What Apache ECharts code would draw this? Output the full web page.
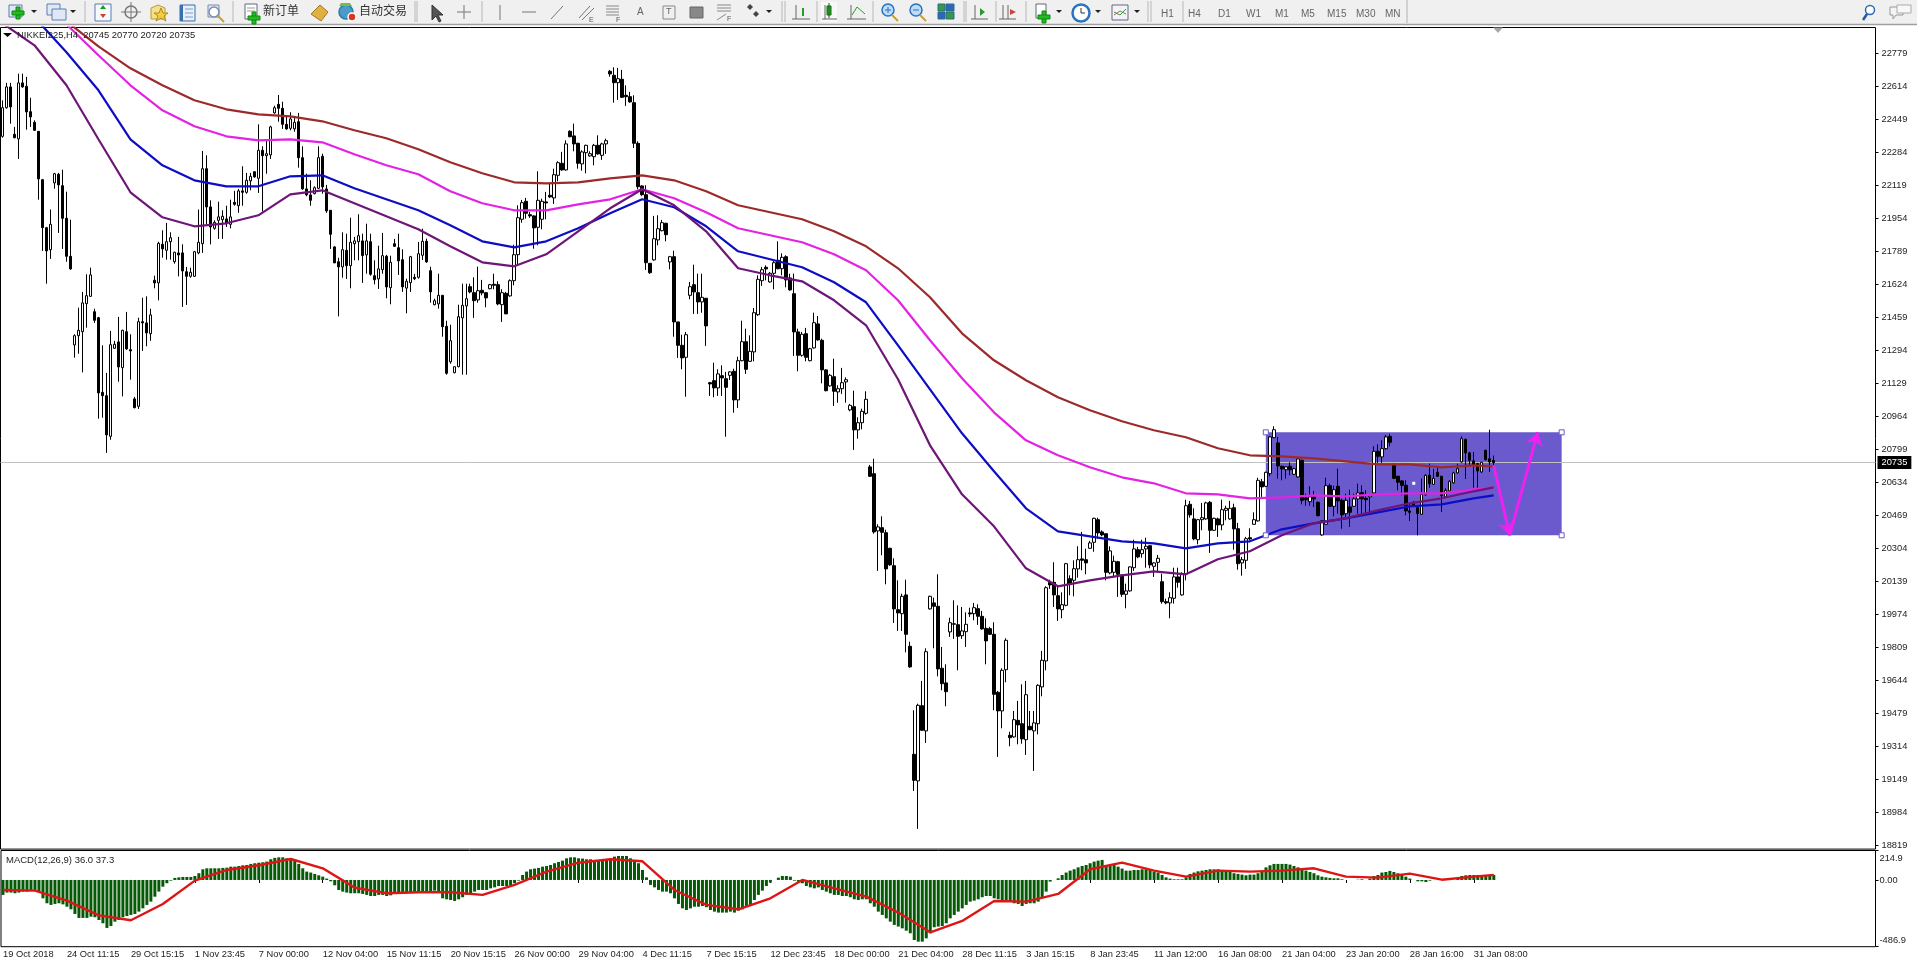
<!DOCTYPE html>
<html><head><meta charset="utf-8">
<style>html,body{margin:0;padding:0;background:#fff}#c{width:1917px;height:966px}</style>
<script src="https://cdn.jsdelivr.net/npm/echarts@6/dist/echarts.min.js"></script>
</head><body><div id="c"></div>
<script>
const timeLabels=["19 Oct 2018","24 Oct 11:15","29 Oct 15:15","1 Nov 23:45","7 Nov 00:00","12 Nov 04:00","15 Nov 11:15","20 Nov 15:15","26 Nov 00:00","29 Nov 04:00","4 Dec 11:15","7 Dec 15:15","12 Dec 23:45","18 Dec 00:00","21 Dec 04:00","28 Dec 11:15","3 Jan 15:15","8 Jan 23:45","11 Jan 12:00","16 Jan 08:00","21 Jan 04:00","23 Jan 20:00","28 Jan 16:00","31 Jan 08:00"];
const priceTicks=[22779,22614,22449,22284,22119,21954,21789,21624,21459,21294,21129,20964,20799,20634,20469,20304,20139,19974,19809,19644,19479,19314,19149,18984,18819];
// [open, close, low, high]
const ohlc=[
[22366,22509,22359,22546],[22509,22613,22504,22633],[22613,22513,22429,22633],[22376,22359,22356,22413],[22353,22633,22253,22679],[22633,22613,22609,22679],[22616,22488,22399,22663],[22489,22463,22413,22559],[22436,22396,22393,22446],[22391,22153,22049,22391],
[22149,21909,21793,22153],[21909,21793,21629,21913],[21799,21926,21753,22000],[22133,22179,22104,22183],[22176,22123,21883,22183],[22119,21956,21803,22199],[21956,21766,21739,22089],[21766,21703,21699,21949],[21323,21369,21259,21376],[21369,21396,21279,21509],
[21389,21533,21186,21588],[21529,21569,21409,21676],[21566,21673,21563,21709],[21489,21446,21433,21504],[21459,21083,20954,21463],[21086,21069,20959,21321],[21069,20873,20783,21183],[20866,21324,20849,21393],[21306,21326,21303,21343],[21338,21213,21139,21463],
[21209,21396,21066,21399],[21389,21303,21299,21488],[21299,21293,21149,21376],[21053,21009,21006,21063],[21016,21439,21003,21459],[21439,21433,21293,21559],[21433,21383,21316,21566],[21379,21473,21343,21504],[21646,21633,21606,21669],[21633,21831,21546,21839],
[21826,21803,21759,21896],[21796,21839,21749,21933],[21839,21859,21749,21886],[21739,21786,21729,21789],[21783,21773,21666,21863],[21783,21693,21513,21826],[21689,21666,21523,21713],[21666,21686,21659,21709],[21666,21789,21663,21793],[21783,21836,21776,22000],
[21829,22204,21783,22293],[22204,22013,21926,22271],[22013,21913,21826,22046],[21906,21936,21899,21946],[21946,21963,21853,22039],[21949,21966,21853,21996],[21953,21929,21913,22019],[21926,21963,21906,22049],[22036,22026,22019,22093],[22019,22093,21983,22103],
[22093,22086,22019,22216],[22086,22146,22079,22183],[22143,22166,22096,22183],[22189,22163,22159,22189],[22156,22296,22083,22426],[22296,22269,21989,22316],[22269,22279,22179,22346],[22273,22413,22253,22419],[22483,22509,22479,22519],[22526,22506,22439,22573],
[22506,22426,22403,22539],[22426,22403,22399,22469],[22406,22453,22396,22486],[22403,22436,22389,22463],[22439,22259,22209,22483],[22259,22103,22099,22316],[22103,22073,22066,22179],[22073,22046,22019,22146],[22079,22109,22076,22116],[22106,22259,22103,22316],
[22266,22113,22079,22279],[22103,21993,21983,22123],[21996,21876,21803,21996],[21813,21733,21733,21816],[21739,21713,21466,21759],[21713,21799,21659,21886],[21796,21719,21653,21879],[21719,21836,21606,21959],[21829,21843,21746,21863],[21839,21869,21746,21976],
[21843,21769,21633,21879],[21773,21843,21679,21929],[21839,21676,21669,21879],[21669,21649,21626,21746],[21653,21703,21603,21819],[21699,21769,21679,21883],[21766,21613,21556,21773],[21609,21736,21526,21769],[21829,21816,21813,21853],[21809,21743,21673,21879],
[21749,21613,21588,21801],[21607,21641,21481,21654],[21634,21764,21588,21768],[21661,21654,21647,21678],[21661,21779,21654,21838],[21771,21841,21748,21904],[21841,21738,21734,21854],[21694,21588,21534,21714],[21524,21544,21521,21554],[21528,21571,21504,21679],
[21571,21414,21364,21571],[21416,21181,21174,21444],[21238,21344,21229,21424],[21184,21214,21181,21214],[21214,21464,21211,21524],[21458,21521,21174,21629],[21518,21554,21174,21629],[21614,21588,21581,21629],[21584,21544,21458,21661],[21548,21594,21534,21714],
[21596,21583,21571,21648],[21584,21558,21511,21588],[21604,21624,21601,21628],[21626,21621,21601,21679],[21624,21528,21521,21641],[21524,21584,21438,21601],[21581,21478,21478,21588],[21568,21644,21564,21651],[21644,21774,21621,21824],[21774,21959,21728,22021],
[21951,22034,21934,22048],[22041,21981,21954,22058],[21974,21968,21958,21988],[21968,21908,21804,21971],[21911,22046,21821,22191],[21951,22041,21901,22054],[22038,22033,21951,22088],[22071,22063,22058,22128],[22058,22174,22028,22204],[22171,22234,22141,22241],
[22231,22198,22194,22288],[22198,22328,22194,22346],[22391,22364,22361,22396],[22368,22328,22291,22429],[22331,22231,22204,22334],[22228,22288,22194,22296],[22284,22321,22181,22324],[22268,22279,22264,22291],[22264,22321,22221,22328],[22321,22278,22274,22371],
[22271,22328,22248,22334],[22328,22344,22278,22354],[22691,22678,22664,22698],[22671,22634,22534,22711],[22634,22654,22548,22708],[22651,22561,22558,22698],[22571,22564,22518,22621],[22564,22538,22534,22588],[22534,22331,22308,22571],[22331,22114,22101,22341],
[22118,22074,22068,22121],[22074,21734,21698,22121],[21731,21684,21678,21731],[21748,21854,21744,21968],[21848,21904,21821,21971],[21894,21934,21891,21948],[21931,21874,21841,21934],[21738,21764,21701,21768],[21764,21438,21364,21794],[21438,21321,21258,21438],
[21321,21258,21201,21374],[21261,21374,21064,21388],[21571,21614,21551,21638],[21624,21588,21478,21724],[21584,21538,21478,21679],[21538,21561,21484,21679],[21556,21418,21318,21558],[21134,21128,21068,21138],[21144,21108,21061,21234],[21108,21178,21068,21201],
[21169,21158,21068,21221],[21154,21111,20864,21188],[21171,21188,21148,21191],[21191,21048,20984,21204],[21048,21244,21008,21264],[21244,21339,21241,21444],[21339,21201,21178,21404],[21241,21291,21238,21371],[21288,21484,21241,21508],[21474,21651,21468,21671],
[21644,21699,21618,21713],[21711,21703,21646,21721],[21638,21681,21634,21688],[21681,21734,21601,21746],[21746,21704,21701,21841],[21704,21761,21671,21781],[21764,21648,21611,21771],[21658,21598,21594,21679],[21579,21388,21268,21679],[21388,21271,21191,21404],
[21271,21376,21264,21388],[21379,21261,21241,21408],[21244,21304,21241,21308],[21308,21434,21304,21484],[21428,21348,21344,21468],[21346,21198,21131,21354],[21198,21094,21091,21201],[21118,21171,21114,21178],[21164,21091,21018,21254],[21088,21104,21034,21121],
[21104,21134,21078,21208],[21138,21149,21034,21161],[20998,21021,20991,21028],[21014,20898,20798,21094],[20898,20934,20854,20961],[20934,20991,20901,21004],[20981,21051,20974,21091],[20713,20666,20663,20723],[20679,20388,20379,20754],[20393,20413,20193,20426],
[20409,20386,20271,20466],[20384,20203,20126,20399],[20306,20223,20219,20309],[20219,20003,19933,20256],[19999,19983,19893,20146],[19979,20066,19893,20079],[20073,19876,19786,20149],[19816,19713,19709,19839],[19276,19146,19093,19496],[19143,19521,18903,19529],
[19519,19396,19393,19643],[19393,19789,19333,19806],[20003,20066,19999,20069],[20033,20016,19806,20059],[20016,19703,19666,20176],[19706,19629,19596,19813],[19633,19589,19516,19726],[19888,19934,19863,19959],[19926,19929,19853,20046],[19924,19866,19696,20021],
[19869,19893,19853,20013],[19889,19926,19813,19986],[19983,19978,19963,20009],[19979,20009,19946,20033],[20004,19966,19923,20026],[19966,19903,19899,19993],[19906,19843,19726,19956],[19904,19876,19873,19913],[19876,19576,19496,19936],[19586,19493,19263,19593],
[19493,19696,19406,19706],[19699,19846,19636,19856],[19371,19359,19316,19389],[19363,19449,19359,19493],[19446,19423,19326,19543],[19429,19353,19329,19626],[19349,19574,19273,19643],[19416,19399,19396,19493],[19393,19433,19193,19493],[19429,19621,19376,19626],
[19613,19746,19566,19793],[19743,20109,19696,20116],[20136,20123,20103,20149],[20136,20073,20013,20236],[20069,20003,19943,20113],[19999,20024,19956,20086],[20021,20229,20016,20233],[20154,20126,20071,20171],[20146,20204,20066,20246],[20203,20249,20159,20316],
[20253,20246,20196,20388],[20249,20233,20176,20304],[20306,20333,20303,20343],[20336,20456,20289,20459],[20449,20383,20353,20459],[20388,20373,20366,20396],[20379,20186,20146,20379],[20183,20293,20176,20316],[20186,20241,20163,20269],[20239,20176,20063,20243],
[20173,20076,20063,20173],[20076,20093,20006,20129],[20093,20213,20089,20216],[20209,20303,20193,20349],[20299,20263,20256,20313],[20279,20299,20259,20349],[20303,20316,20209,20359],[20319,20223,20206,20321],[20216,20233,20163,20236],[20236,20256,20186,20273],
[20139,20039,20029,20179],[20039,20033,20026,20054],[20033,20059,19956,20086],[20056,20163,20029,20209],[20163,20136,20109,20209],[20073,20179,20069,20186],[20179,20519,20146,20549],[20526,20473,20459,20543],[20453,20353,20346,20506],[20349,20449,20326,20453],
[20449,20459,20396,20533],[20453,20533,20449,20539],[20536,20396,20283,20543],[20396,20456,20393,20459],[20453,20423,20363,20459],[20423,20499,20396,20549],[20496,20506,20446,20519],[20453,20506,20449,20543],[20509,20403,20299,20529],[20404,20229,20199,20433],
[20233,20249,20169,20263],[20246,20354,20203,20363],[20359,20353,20346,20406],[20426,20449,20423,20486],[20443,20646,20439,20659],[20639,20613,20563,20653],[20616,20686,20613,20689],[20679,20863,20666,20866],[20859,20899,20856,20916],[20833,20718,20654,20863],
[20716,20703,20646,20719],[20699,20713,20654,20716],[20716,20699,20671,20736],[20676,20704,20673,20709],[20663,20753,20659,20759],[20746,20546,20526,20749],[20558,20549,20519,20579],[20539,20563,20519,20616],[20563,20553,20513,20593],[20536,20469,20466,20539],
[20373,20443,20369,20446],[20426,20619,20423,20659],[20619,20516,20513,20629],[20516,20599,20466,20619],[20616,20543,20479,20704],[20546,20473,20404,20554],[20479,20546,20463,20579],[20513,20486,20413,20599],[20516,20553,20513,20579],[20553,20583,20479,20629],
[20584,20553,20479,20621],[20556,20549,20479,20596],[20563,20573,20479,20576],[20583,20791,20579,20816],[20791,20766,20733,20826],[20763,20804,20733,20846],[20804,20863,20799,20873],[20866,20836,20816,20879],[20726,20656,20653,20729],[20666,20636,20596,20669],
[20643,20621,20571,20646],[20621,20493,20471,20646],[20493,20486,20443,20529],[20533,20516,20513,20543],[20509,20479,20371,20519],[20476,20576,20473,20654],[20573,20671,20569,20676],[20671,20629,20609,20729],[20626,20656,20623,20703],[20686,20666,20663,20709],
[20666,20569,20488,20669],[20563,20596,20559,20606],[20593,20641,20589,20646],[20633,20683,20629,20689],[20683,20704,20679,20729],[20738,20854,20734,20866],[20851,20783,20653,20854],[20783,20746,20721,20788],[20743,20721,20609,20788],[20729,20693,20609,20733],
[20688,20736,20683,20738],[20796,20749,20746,20799],[20754,20738,20688,20899],[20745,20735,20720,20770]
];
// bar positions at which the moving-average and signal curves were read
const sampleBars=[0,8,16,24,32,40,48,56,64,72,80,88,96,104,112,120,128,136,144,152,160,168,176,184,192,200,208,216,224,232,240,248,256,264,272,280,288,296,304,312,320,328,336,344,352,360,368,373];
const maBrown=[23396,23196,22941,22816,22706,22621,22546,22501,22476,22466,22441,22396,22356,22301,22236,22181,22136,22131,22136,22156,22171,22146,22091,22021,21986,21951,21891,21816,21706,21561,21381,21246,21146,21061,20996,20941,20896,20861,20806,20771,20766,20756,20741,20726,20726,20711,20721,20716];
const maMagenta=[23276,23071,22926,22771,22621,22496,22416,22366,22346,22351,22336,22276,22221,22176,22091,22031,21996,21996,22026,22051,22101,22056,21986,21906,21871,21836,21776,21696,21546,21346,21156,20986,20846,20771,20711,20661,20631,20581,20576,20556,20561,20571,20566,20576,20581,20581,20601,20611];
const maBlue=[23121,22961,22786,22596,22351,22221,22146,22116,22116,22166,22171,22106,22051,21996,21921,21841,21811,21841,21906,21981,22051,22011,21916,21791,21751,21711,21636,21536,21321,21101,20881,20691,20506,20391,20366,20341,20331,20306,20331,20341,20401,20431,20456,20486,20516,20526,20556,20571];
const maPurple=[22931,22821,22621,22351,22086,21961,21916,21931,21971,22076,22096,22031,21966,21901,21816,21736,21716,21776,21891,22006,22101,22021,21891,21706,21671,21641,21546,21421,21151,20821,20576,20416,20206,20116,20146,20171,20191,20176,20251,20291,20371,20431,20456,20496,20531,20556,20591,20611];
const macdBars=[-109,-92,-92,-97,-92,-85,-85,-78,-73,-85,-134,-170,-182,-175,-170,-178,-195,-214,-248,-277,-277,-277,-268,-272,-292,-316,-350,-336,-304,-292,-272,-263,-255,-248,-231,-207,-182,-158,-122,-85,-49,-24,-5,15,19,22,22,22,29,49,78,85,85,85,85,88,90,97,97,102,107,109,117,122,126,129,134,151,161,165,165,158,151,141,117,85,61,54,44,34,24,10,-10,-39,-73,-85,-92,-97,-97,-97,-102,-109,-117,-117,-109,-109,-117,-112,-102,-97,-92,-92,-92,-92,-88,-88,-85,-85,-78,-85,-134,-141,-146,-153,-141,-126,-109,-97,-85,-73,-73,-73,-61,-54,-44,-44,-44,-39,-24,-5,36,61,78,83,88,97,102,109,122,131,141,158,165,165,158,156,151,151,146,141,146,151,158,170,175,175,175,158,134,122,73,19,-36,-54,-73,-85,-85,-97,-134,-175,-207,-219,-207,-195,-195,-190,-199,-219,-231,-238,-238,-238,-231,-238,-224,-214,-195,-182,-146,-109,-78,-44,-19,0,17,29,29,24,-5,-12,-24,-44,-54,-61,-54,-73,-85,-97,-109,-109,-117,-117,-126,-141,-146,-141,-141,-170,-195,-231,-255,-280,-304,-328,-340,-353,-370,-389,-438,-450,-450,-426,-389,-345,-340,-336,-316,-280,-255,-231,-207,-182,-158,-151,-141,-126,-117,-117,-134,-141,-151,-151,-158,-170,-175,-190,-175,-170,-170,-158,-134,-85,-12,0,12,36,54,68,78,92,102,109,122,134,141,146,109,102,117,97,83,68,68,73,73,78,78,78,61,54,36,19,10,5,5,5,19,44,54,63,68,73,78,78,78,73,73,68,49,44,39,34,39,39,49,68,92,107,117,117,117,117,112,102,92,85,68,58,49,34,24,19,15,12,12,5,0,0,0,2,5,0,10,29,36,54,58,66,58,49,44,24,10,0,-10,-10,-15,-5,0,0,0,0,0,0,12,29,34,36,36,36,36,36,36,36];
const macdSignal=[-73,-78,-151,-258,-294,-175,-5,73,107,153,85,-56,-97,-90,-90,-109,-36,61,126,151,136,-73,-182,-214,-134,0,-61,-122,-238,-382,-299,-153,-158,-102,78,126,68,24,68,61,68,85,24,17,46,2,24,37.3];
const currentPrice=20735;
const boxHigh=20886,boxLow=20371;
// the panel's two scale limits, shown just inside the panel edges
const macdScaleText={160:'214.9',0:'0.00','-438':'-486.9'};

const slotCount=469, labelStep=16;
const slots=Array.from({length:slotCount},(_,i)=>i%labelStep===0?(timeLabels[i/labelStep]||''):'');
const tickFn=i=>i%labelStep===0&&i<timeLabels.length*labelStep;
const pair=arr=>sampleBars.map((b,k)=>[b,arr[k]]);
const font='"Liberation Sans",Arial,sans-serif';
const maLine=(name,arr,color)=>({name,type:'line',xAxisIndex:0,yAxisIndex:0,data:pair(arr),showSymbol:false,symbol:'none',smooth:false,lineStyle:{color,width:2.2},z:4,silent:true,clip:true});

// toolbar drawing
const g=[];
const R=(x,y,w,h,fill,stroke)=>g.push({type:'rect',shape:{x,y,width:w,height:h},style:{fill:fill||'none',stroke:stroke||null,lineWidth:1},silent:true,z:20});
const L=(x1,y1,x2,y2,stroke,w)=>g.push({type:'line',shape:{x1,y1,x2,y2},style:{stroke:stroke||'#555',lineWidth:w||1},silent:true,z:20});
const C=(cx,cy,r,fill,stroke)=>g.push({type:'circle',shape:{cx,cy,r},style:{fill:fill||'none',stroke:stroke||null,lineWidth:1.5},silent:true,z:20});
const P=(points,fill,stroke)=>g.push({type:'polygon',shape:{points},style:{fill:fill||'none',stroke:stroke||null,lineWidth:1},silent:true,z:20});
const T=(text,x,y,size,color,family)=>g.push({type:'text',x,y,style:{text,fill:color||'#555',font:(size||10)+'px '+(family||font),textVerticalAlign:'middle'},silent:true,z:20});
const plus=(x,y)=>{R(x-2,y-6,4,12,'#22bb22','#118811');R(x-6,y-2,12,4,'#22bb22','#118811');};
const drop=x=>P([[x-3,10],[x+3,10],[x,13]],'#222');
const sep=x=>L(x,1,x,22,'#b8b8b8',1);
R(0,0,1917,24,'#f0f0f0');L(0,24.5,1917,24.5,'#a0a0a0',1.5);
R(9,5,13,12,'#dfe8f4','#5a7fb0');plus(18,13);drop(34);
R(47,4,13,11,'#dfe8f4','#5a7fb0');R(52,9,14,11,'#dfe8f4','#5a7fb0');drop(73);sep(85);
R(95,4,16,17,'#f4f8ff','#5a7fb0');P([[100,9],[103,5],[106,9]],'#1a9a1a');P([[100,14],[106,14],[103,18]],'#cc4422');
C(131,12,6,null,'#777');L(121,12,141,12,'#777');L(131,2,131,22,'#777');
P([[151,8],[158,5],[165,8],[165,19],[151,19]],'#f4e08a','#b79a3a');P([[161,8],[163,13],[168,13],[164,16],[166,21],[161,18],[156,21],[158,16],[154,13],[159,13]],'#f2cf3c','#b08a20');
R(180,5,15,16,'#e8f0fb','#3a6fb0');R(180,5,3,16,'#3a6fb0');L(185,9,193,9,'#7a9fc8');L(185,13,193,13,'#7a9fc8');L(185,17,193,17,'#7a9fc8');
R(208,5,11,12,'#dfe8f4','#7a8fb0');C(214,12,5,'#ffffff','#7a8fb0');L(218,16,224,22,'#c9a030',2);sep(233);
R(245,4,12,15,'#fff','#667');L(247,8,255,8,'#999');L(247,11,255,11,'#999');plus(254,18);
T('新订单',263,10,12,'#333','"Noto Sans CJK SC"');
P([[311,14],[320,5],[328,12],[321,21]],'#e0b040','#a07820');
C(346,12,7,'#4a9bc8','#2a7aa0');P([[339,6],[352,6],[350,3],[341,3]],'#7ab94a');C(352,17,4,'#dd3322','#fff');
T('自动交易',359,10,12,'#333','"Noto Sans CJK SC"');sep(415);L(417,1,417,22,'#b8b8b8',1);
P([[432,5],[432,20],[436,16],[439,22],[441,21],[438,15],[443,15]],'#555','#333');
L(457,12,471,12,'#777');L(464,5,464,19,'#777');sep(482);L(500,5,500,20,'#777');L(522,12,536,12,'#777');L(551,19,563,6,'#777');
L(579,18,590,6,'#777');L(582,20,594,8,'#777');T('E',589,20,7,'#555');
[6,9,12,15].forEach(y=>L(606,y,619,y,'#888'));T('F',616,20,7,'#555');
T('A',637,12,10,'#666');R(663,6,12,13,null,'#888');T('T',666,12,9,'#666');R(690,7,13,11,'#888','#666');
[5,8,11].forEach(y=>L(717,y,731,y,'#888'));L(717,20,726,14,'#888');T('F',727,19,7,'#555');
P([[747,7],[750,4],[753,7],[750,10]],'#444');P([[753,14],[756,11],[759,14],[756,17]],'#444');drop(769);sep(782);L(785,1,785,22,'#b8b8b8',1);
L(796,5,796,19,'#666');L(792,19,810,19,'#666');L(803,8,803,16,'#2a9a2a',2);sep(817);
R(821,2,16,20,'#f8f8f8');R(827,6,4,9,'#2aaa2a','#116611');L(829,3,829,18,'#116611');L(822,19,837,19,'#666');L(825,5,825,19,'#666');
L(851,5,851,19,'#666');L(847,19,866,19,'#666');L(852,15,857,7,'#2a9a2a');L(857,7,865,14,'#2a9a2a');sep(873);
C(888,10,6,'#bcdcf8','#2a72c0');L(885,10,891,10,'#2a72c0');L(888,7,888,13,'#2a72c0');L(892,15,898,21,'#c9a030',2);
C(916,10,6,'#bcdcf8','#2a72c0');L(913,10,919,10,'#2a72c0');L(920,15,926,21,'#c9a030',2);
R(938,4,7,7,'#3a9a3a','#2a6a9a');R(946,4,8,7,'#2a6ab0','#2a6a9a');R(938,12,7,7,'#2a6ab0','#2a6a9a');R(946,12,8,7,'#3a9a3a','#2a6a9a');sep(964);L(966,1,966,22,'#b8b8b8',1);
L(975,5,975,19,'#666');L(971,19,988,19,'#666');P([[980,8],[985,12],[980,16]],'#2a9a2a');sep(996);
L(1003,5,1003,19,'#666');L(999,19,1016,19,'#666');L(1008,5,1008,19,'#666');P([[1016,12],[1010,9],[1010,15]],'#cc4444');sep(1026);
R(1036,4,10,14,'#fff','#667');plus(1044,17);drop(1059);
C(1081,13,8,'#ffffff','#2a72c0');C(1081,13,9,null,'#2a72c0');L(1081,13,1081,8,'#333');L(1081,13,1085,13,'#333');drop(1098);
R(1112,5,16,15,'#f0f4fa','#667');L(1114,15,1120,11,'#cc5555');L(1120,11,1126,14,'#cc5555');L(1114,12,1120,15,'#3a9a3a');L(1120,15,1126,9,'#3a9a3a');drop(1137);sep(1148);L(1151,1,1151,22,'#b8b8b8',1);
[['H1',1161],['H4',1188],['D1',1218],['W1',1246],['M1',1275],['M5',1301],['M15',1327],['M30',1356],['MN',1385]].forEach(a=>T(a[0],a[1],14,10,'#666'));
L(1183,1,1183,22,'#b8b8b8',1);L(1407,0,1407,23,'#b0b0b0',1);
C(1870,10,4.5,'#fff','#2a6ab0');L(1867,14,1863,20,'#2a5a9a',2.5);
P([[1890,7],[1903,7],[1903,15],[1896,15],[1893,19],[1893,15],[1890,15]],'#f4f4f4','#999');P([[1897,5],[1911,5],[1911,13],[1897,13]],'#f8f8f8','#aaa');
// chart overlays
P([[3,33],[12,33],[7.5,37]],'#000');
T('NIKKEI225,H4  20745 20770 20720 20735',17,35.5,9.4,'#222');
T('MACD(12,26,9) 36.0 37.3',6,860,9.5,'#222');
P([[1493,27.5],[1503,27.5],[1498,33]],'#a8a8a8');

const option={
 animation:false,backgroundColor:'#fff',
 graphic:g,
 grid:[
  {left:0.5,right:41.5,top:27.5,height:821.6,show:true,borderColor:'#000',borderWidth:1,backgroundColor:'#fff'},
  {left:0.5,right:41.5,top:850.5,height:96.2,show:true,borderColor:'#000',borderWidth:1,backgroundColor:'#fff'}
 ],
 xAxis:[
  {type:'category',gridIndex:0,data:slots,boundaryGap:true,show:false},
  {type:'category',gridIndex:1,data:slots,boundaryGap:true,axisLine:{show:false},
   axisTick:{show:true,alignWithLabel:true,interval:tickFn,length:3,lineStyle:{color:'#000'}},
   axisLabel:{interval:tickFn,align:'left',margin:3,color:'#222',fontSize:9.3,fontFamily:font,hideOverlap:false},splitLine:{show:false}}
 ],
 yAxis:[
  {type:'value',gridIndex:0,position:'right',min:18802,max:22910,scale:true,axisLine:{show:false},splitLine:{show:false},
   axisTick:{show:true,length:3,inside:false,customValues:priceTicks,lineStyle:{color:'#000'}},
   axisLabel:{customValues:priceTicks,color:'#222',fontSize:9.3,fontFamily:font,margin:6,formatter:v=>String(v)}},
  {type:'value',gridIndex:1,position:'right',min:-486.9,max:214.9,axisLine:{show:false},splitLine:{show:false},
   axisTick:{show:true,length:3,customValues:[214.9,0,-486.9],lineStyle:{color:'#000'}},
   axisLabel:{customValues:[160,0,-438],color:'#222',fontSize:9.3,fontFamily:font,margin:4,formatter:v=>macdScaleText[v]}}
 ],
 series:[
  {type:'candlestick',name:'NIKKEI225',xAxisIndex:0,yAxisIndex:0,data:ohlc,barWidth:3,z:3,silent:true,
   itemStyle:{color:'#ffffff',color0:'#000000',borderColor:'#000000',borderColor0:'#000000',borderWidth:1},
   markArea:{silent:true,z:1,itemStyle:{color:'#6a5acd',opacity:1},data:[[{coord:[316,boxHigh]},{coord:[390,boxLow]}]]},
   markLine:{silent:true,symbol:'none',z:2,lineStyle:{color:'#c0c0c0',width:1,type:'solid'},
     label:{position:'end',formatter:String(currentPrice),color:'#fff',backgroundColor:'#000',padding:[2,4,2,4],fontSize:9.3,fontFamily:font,distance:2},
     emphasis:{disabled:true},data:[{yAxis:currentPrice}]}
  },
  maLine('MA brown',maBrown,'#9c2a2a'),
  maLine('MA magenta',maMagenta,'#e322e3'),
  maLine('MA blue',maBlue,'#0d0dc4'),
  maLine('MA purple',maPurple,'#6e1678'),
  {type:'line',name:'drawing',xAxisIndex:0,yAxisIndex:0,data:[],z:6,silent:true,
   markLine:{silent:true,z:6,symbol:'none',lineStyle:{color:'#ee22ee',width:3,type:'solid'},label:{show:false},
     data:[[{coord:[373,20721]},{coord:[377.4,boxLow],symbol:'arrow',symbolSize:13}],[{coord:[377.4,boxLow]},{coord:[384,boxHigh],symbol:'arrow',symbolSize:13}]]},
   markPoint:{silent:true,z:7,symbol:'rect',symbolSize:5,label:{show:false},itemStyle:{color:'#fff',borderColor:'#6a5acd',borderWidth:1},
     data:[{coord:[316,boxHigh]},{coord:[390,boxHigh]},{coord:[316,boxLow]},{coord:[390,boxLow]},{coord:[353,20631],symbolSize:3,itemStyle:{color:'#fff',borderWidth:0}}]}
  },
  {type:'bar',name:'MACD',xAxisIndex:1,yAxisIndex:1,data:macdBars,barWidth:3,itemStyle:{color:'#055a05'},silent:true,z:2},
  {type:'line',name:'Signal',xAxisIndex:1,yAxisIndex:1,data:pair(macdSignal),symbol:'none',showSymbol:false,smooth:false,lineStyle:{color:'#dd1515',width:2.4},silent:true,z:3}
 ]
};
echarts.init(document.getElementById('c'),null,{renderer:'canvas'}).setOption(option);
</script></body></html>
